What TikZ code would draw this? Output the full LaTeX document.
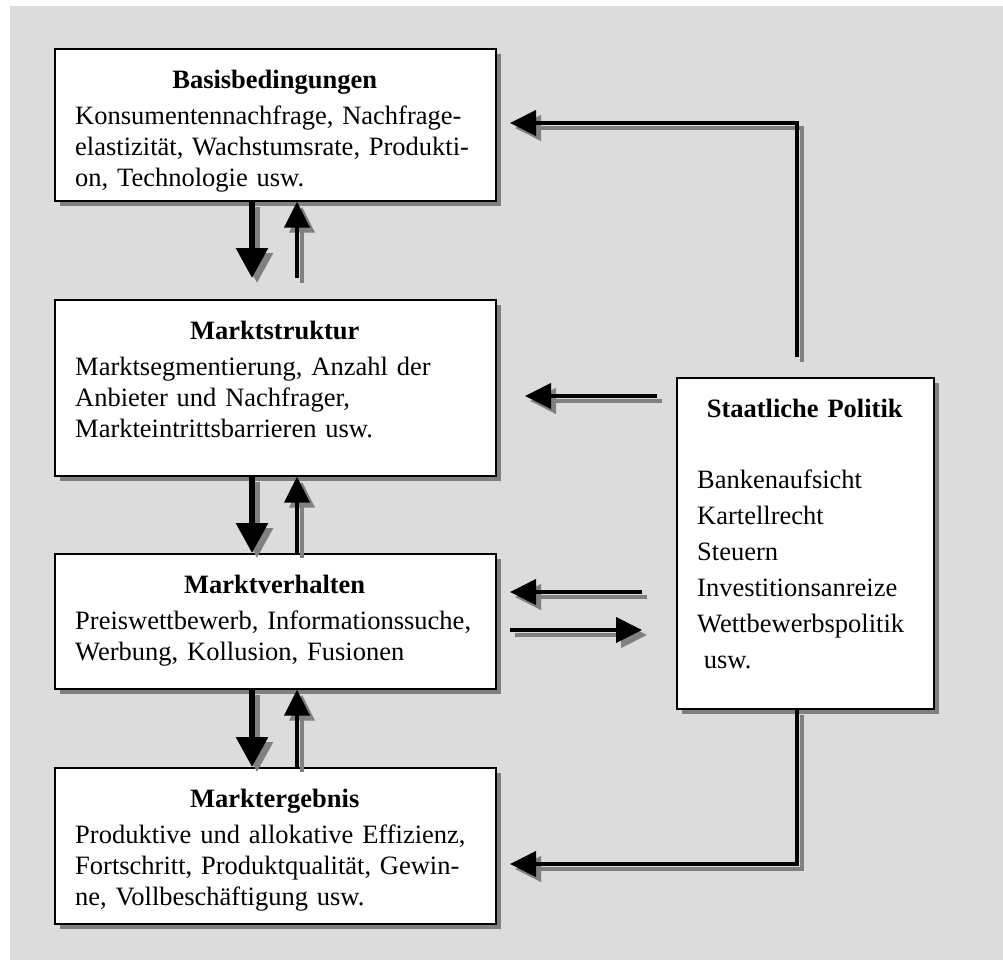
\documentclass[tikz,border=0pt]{standalone}
\usepackage{fontspec}
\setmainfont{Liberation Serif}
\usetikzlibrary{arrows.meta,shadows}

\definecolor{panel}{HTML}{DCDCDC}
\definecolor{shade}{HTML}{808080}

\tikzset{
  box/.style={rectangle, draw=black, line width=1.6pt, fill=white,
    inner sep=0pt, anchor=north west,
    drop shadow={shadow xshift=5pt, shadow yshift=-5pt, fill=shade, opacity=1}},
  boxtext/.style={inner sep=0pt, anchor=base west, align=left,
    font=\fontsize{26.5}{31}\selectfont},
  listtext/.style={boxtext, font=\fontsize{26.5}{36}\selectfont},
  bigarrow/.style={line width=6pt, -{Triangle[width=31pt,length=30pt]}},
  thinarrow/.style={line width=4pt, -{Triangle[width=25pt,length=26pt]}},
}

% an arrow drawn twice: a grey copy offset down-right, then the black one
\newcommand\shadowed[2][]{%
  \draw[#1, draw=shade, transform canvas={shift={(5pt,-5pt)}}] #2;
  \draw[#1] #2;
}

\begin{document}
\begin{tikzpicture}[x=1pt, y=-1pt]
  \useasboundingbox (0,0) rectangle (1003,960);
  \fill[white] (0,0) rectangle (1003,960);
  \fill[panel] (10,6) rectangle (1003,960);

  % boxes
  \node[box, minimum width=441pt, minimum height=152pt] (bb) at (54,48) {};
  \node[box, minimum width=441pt, minimum height=176pt] (ms) at (54,299) {};
  \node[box, minimum width=441pt, minimum height=135pt] (mv) at (54,553) {};
  \node[box, minimum width=441pt, minimum height=156pt] (me) at (54,767) {};
  \node[box, minimum width=257pt, minimum height=331pt] (sp) at (676,377) {};

  % box contents
  \node[boxtext, text width=399pt] (bbt) at ([shift={(21,40.5)}]bb.north west)
    {{\centering\bfseries Basisbedingungen\par}\vspace{5pt}%
     Konsumentennachfrage, Nachfrage-\\
     elastizität, Wachstumsrate, Produkti-\\
     on, Technologie usw.};
  \node[boxtext, text width=399pt] (mst) at ([shift={(21,40.5)}]ms.north west)
    {{\centering\bfseries Marktstruktur\par}\vspace{5pt}%
     Marktsegmentierung, Anzahl der\\
     Anbieter und Nachfrager,\\
     Markteintrittsbarrieren usw.};
  \node[boxtext, text width=399pt] (mvt) at ([shift={(21,40.5)}]mv.north west)
    {{\centering\bfseries Marktverhalten\par}\vspace{5pt}%
     Preiswettbewerb, Informationssuche,\\
     Werbung, Kollusion, Fusionen};
  \node[boxtext, text width=399pt] (met) at ([shift={(21,40.5)}]me.north west)
    {{\centering\bfseries Marktergebnis\par}\vspace{5pt}%
     Produktive und allokative Effizienz,\\
     Fortschritt, Produktqualität, Gewin-\\
     ne, Vollbeschäftigung usw.};
  \node[listtext, text width=215pt] (spt) at ([shift={(21,40.5)}]sp.north west)
    {{\centering\bfseries Staatliche Politik\par}\vspace{35pt}%
     Bankenaufsicht\\
     Kartellrecht\\
     Steuern\\
     Investitionsanreize\\
     Wettbewerbspolitik\\
     \hspace*{6.6pt}usw.};

  % free ends of the connectors
  \coordinate (down) at (252,278);
  \coordinate (up)   at (297,278);
  \coordinate (fbtop) at (797,357);
  \coordinate (fbtip) at (510,123);
  \coordinate (msin)  at (525,396);
  \coordinate (msout) at (657,396);
  \coordinate (mvin)  at (510,592);
  \coordinate (mvout) at (642,592);
  \coordinate (mvto)  at (642,630);
  \coordinate (mvfrom) at (510,630);
  \coordinate (fbbot) at (510,864);

  % chain between the market boxes
  \shadowed[bigarrow]{(bb.south -| down) -- (down)}
  \shadowed[thinarrow]{(up) -- (up |- bb.south)}
  \shadowed[bigarrow]{(ms.south -| down) -- (mv.north -| down)}
  \shadowed[thinarrow]{(mv.north -| up) -- (ms.south -| up)}
  \shadowed[bigarrow]{(mv.south -| down) -- (me.north -| down)}
  \shadowed[thinarrow]{(me.north -| up) -- (mv.south -| up)}

  % links with government policy
  \shadowed[thinarrow]{(fbtop) |- (fbtip)}
  \shadowed[thinarrow]{(msout) -- (msin)}
  \shadowed[thinarrow]{(mvout) -- (mvin)}
  \shadowed[thinarrow]{(mvfrom) -- (mvto)}
  \shadowed[thinarrow]{(sp.south -| fbtop) |- (fbbot)}
\end{tikzpicture}
\end{document}
